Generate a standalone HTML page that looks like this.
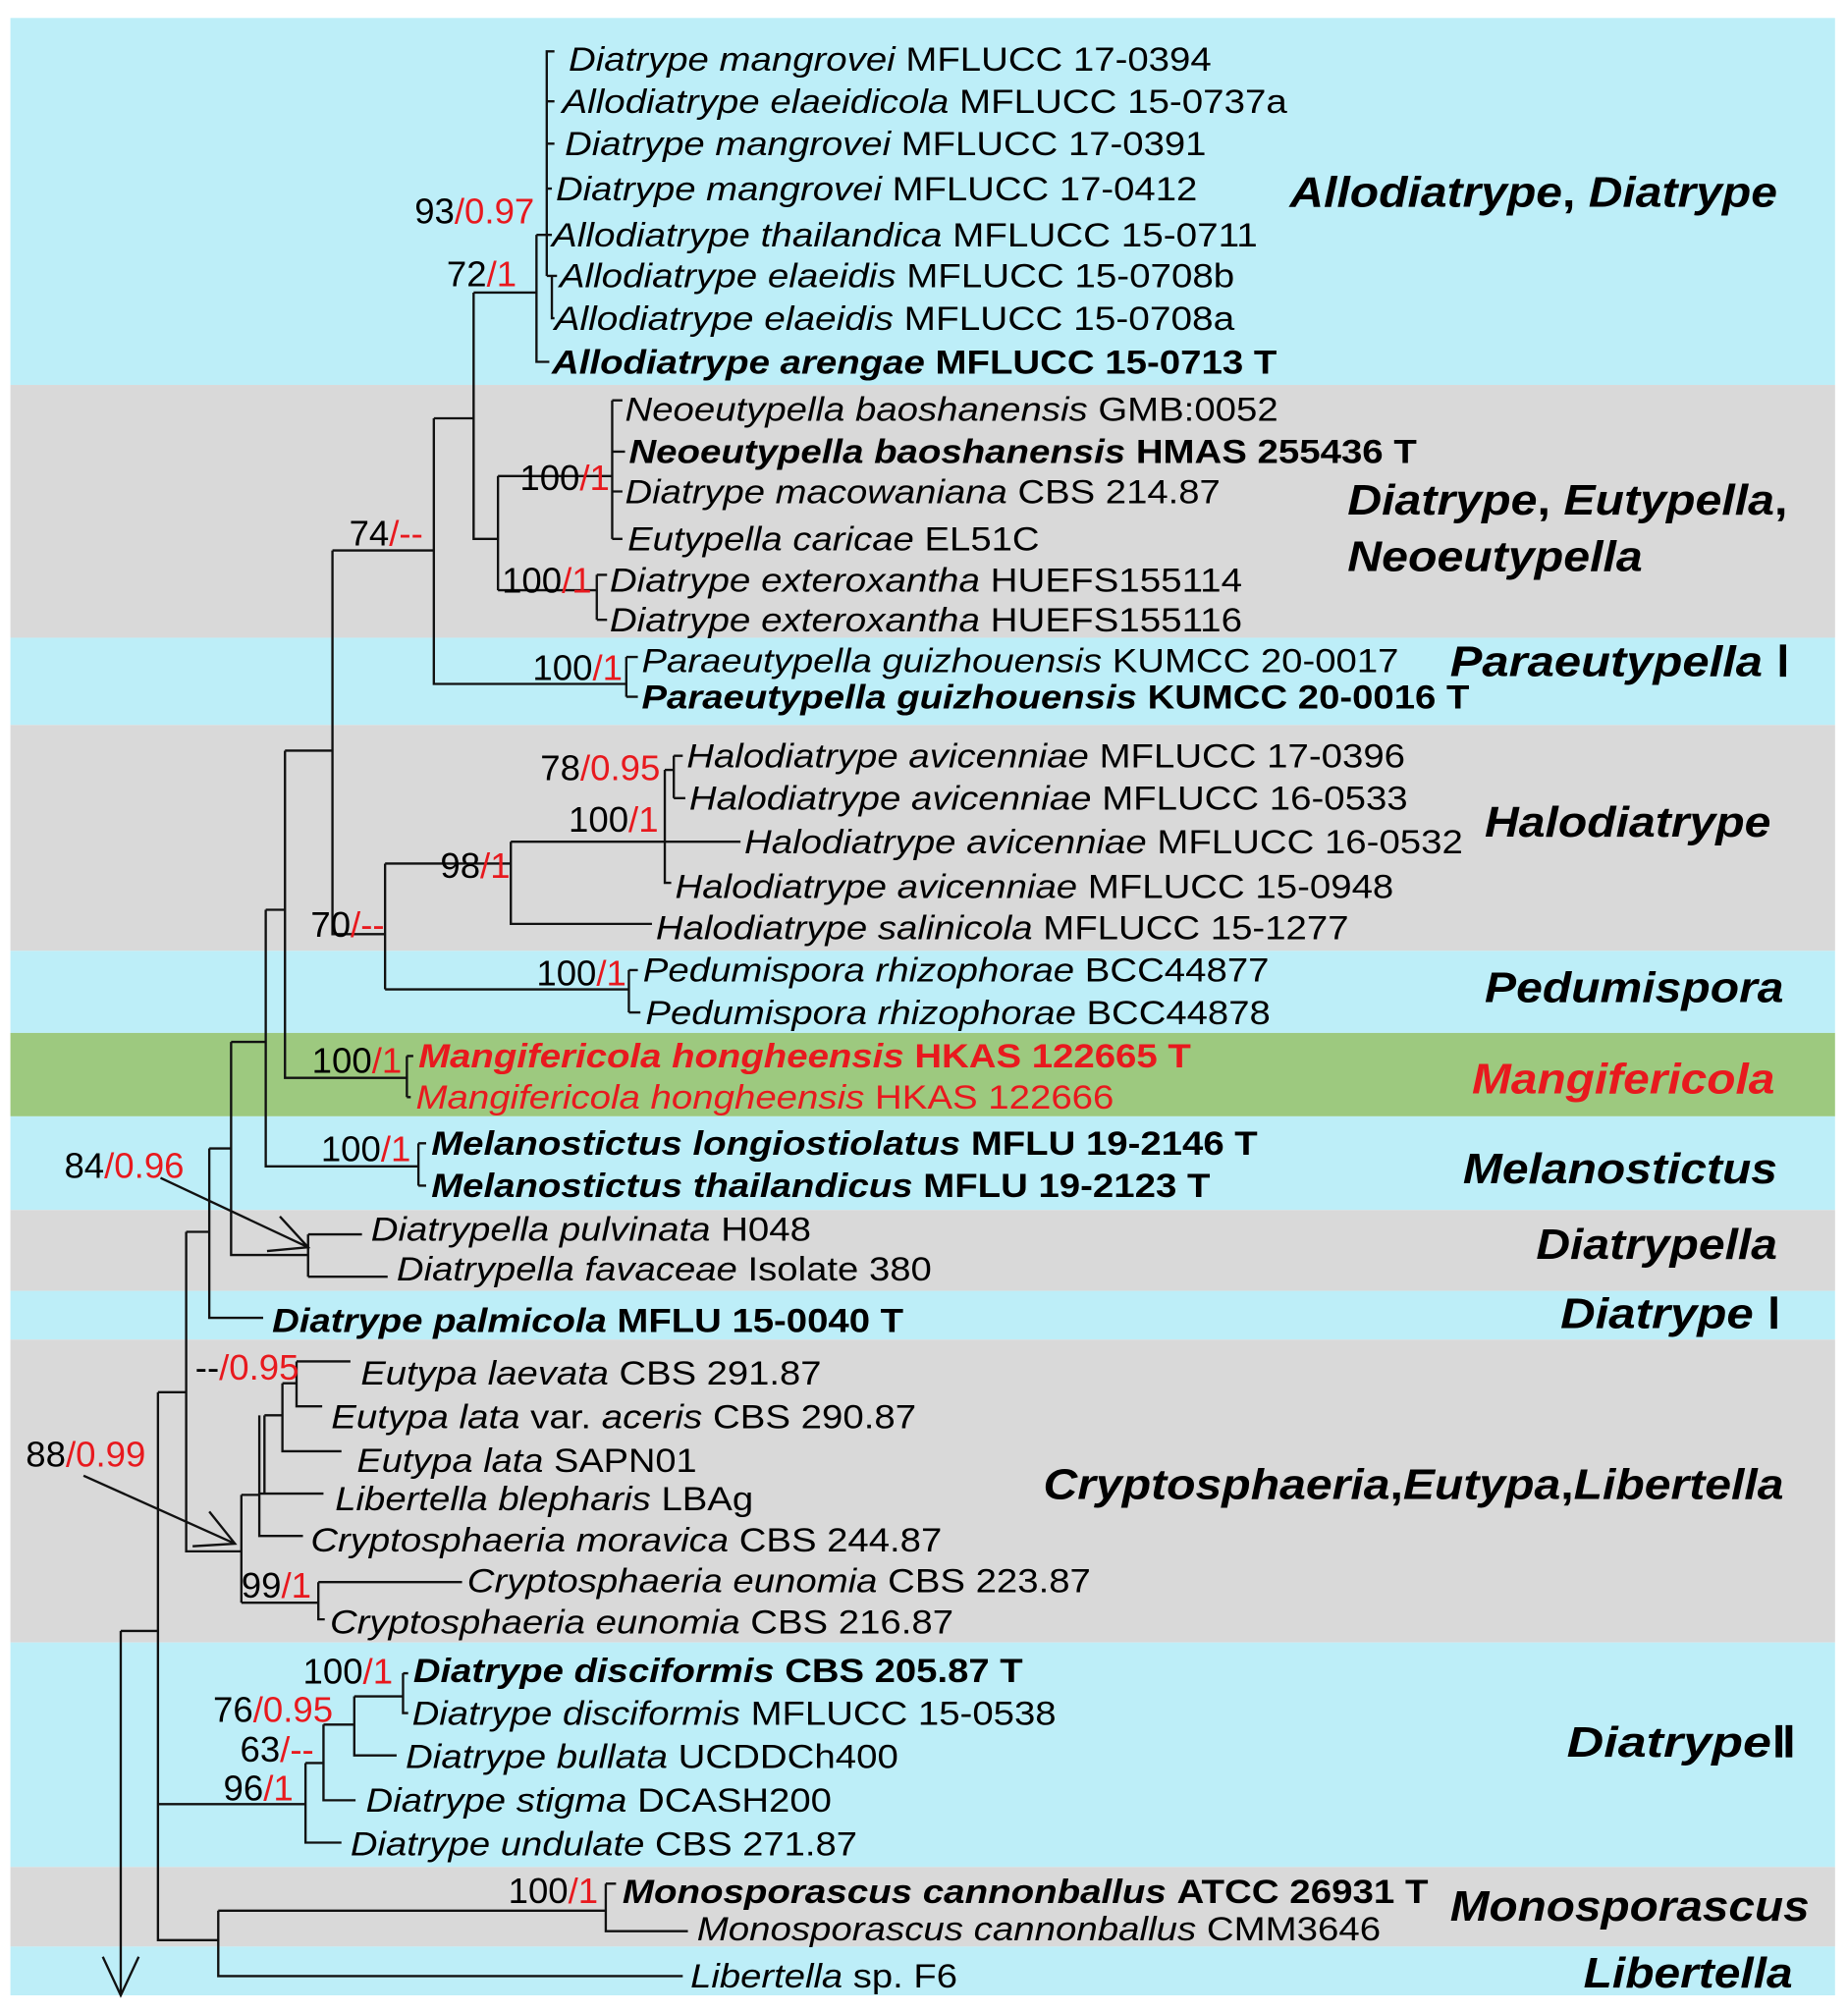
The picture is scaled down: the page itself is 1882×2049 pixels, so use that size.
<!DOCTYPE html>
<html><head><meta charset="utf-8"><style>
html,body{margin:0;padding:0;background:#fff}
svg{display:block}
text{font-family:"Liberation Sans",Arial,sans-serif}
.l{font-size:26px;font-style:italic}
.n{font-style:normal}
.b{font-weight:bold}
.s{font-size:28px}
.r{fill:#e8191e}
.c{font-size:33px;font-weight:bold;font-style:italic}
</style></head><body>
<svg width="1882" height="2049" viewBox="0 0 1440 1568" xmlns="http://www.w3.org/2000/svg">
<rect x="0" y="0" width="1440" height="1568" fill="#fff"/>
<g>
<rect x="8" y="14" width="1422" height="286" fill="#bdeef8"/>
<rect x="8" y="300" width="1422" height="197" fill="#d9d9d9"/>
<rect x="8" y="497" width="1422" height="68" fill="#bdeef8"/>
<rect x="8" y="565" width="1422" height="176" fill="#d9d9d9"/>
<rect x="8" y="741" width="1422" height="64" fill="#bdeef8"/>
<rect x="8" y="805" width="1422" height="65" fill="#9dc97f"/>
<rect x="8" y="870" width="1422" height="73" fill="#bdeef8"/>
<rect x="8" y="943" width="1422" height="63" fill="#d9d9d9"/>
<rect x="8" y="1006" width="1422" height="38" fill="#bdeef8"/>
<rect x="8" y="1044" width="1422" height="236" fill="#d9d9d9"/>
<rect x="8" y="1280" width="1422" height="175" fill="#bdeef8"/>
<rect x="8" y="1455" width="1422" height="62" fill="#d9d9d9"/>
<rect x="8" y="1517" width="1422" height="38" fill="#bdeef8"/>
</g>
<g stroke="#111" stroke-width="1.8" fill="none">
<path d="M432,40 H426 V215 M426,79 H432 M426,112 H432 M426,147 H430 M426,183 H430"/>
<path d="M418,183 H426 M418,183 V282 H428 M426,215 H430 V248 H432 M430,215 H434"/>
<path d="M369,228 H418 M369,228 V420 H388"/>
<path d="M388,371 V460 M388,371 H477 M477,312 V420 M477,312 H485 M477,352 H487 M477,383 H485 M477,420 H485"/>
<path d="M388,460 H465 M465,448 V483 M465,448 H473 M465,483 H473"/>
<path d="M338,326 H369 M338,326 V533 H488 M488,512 V543 M488,512 H497 M488,543 H497"/>
<path d="M259,429 H338 M259,429 V728 H300"/>
<path d="M300,673 V771 M300,673 H398 M398,656 V720 H508 M398,656 H518 M518,600 V688 H523 M518,656 H577 M518,600 H525 M525,589 V622 M525,589 H532 M525,622 H534"/>
<path d="M300,771 H490 M490,756 V789 M490,756 H497 M490,789 H499"/>
<path d="M222,585 H259 M222,585 V840 H317 M317,823 V855 M317,823 H322 M317,855 H320"/>
<path d="M207,709 H222 M207,709 V909 H326 M326,891 V924 M326,891 H332 M326,924 H332"/>
<path d="M180,812 H207 M180,812 V978 H240 M240,962 V995 M240,962 H282 M240,995 H302"/>
<path d="M163,895 H180 M163,895 V1027 H205"/>
<path d="M145,960 H163 M145,960 V1209 H188"/>
<path d="M188,1165 V1249 M188,1165 H202 M202,1103 V1197 H236 M202,1164 H252 M206,1103 V1164 M206,1103 H220 M220,1078 V1131 H266 M220,1078 H231 M231,1061 V1096 H251 M231,1061 H273"/>
<path d="M188,1249 H248 M248,1233 V1262 H253 M248,1233 H360"/>
<path d="M123,1085 H145 M123,1085 V1512 H170 M94,1271 H123 M94,1271 V1555"/>
<path d="M123,1406 H238 M238,1374 V1436 H266 M238,1374 H252 M252,1344 V1403 H277 M252,1344 H276 M276,1322 V1368 H309 M276,1322 H314 M314,1304 V1335 H318 M314,1304 H318"/>
<path d="M170,1489 V1540 H532 M170,1489 H472 M472,1468 V1505 H536 M472,1468 H480"/>
<path d="M80,1525 L94,1555 L108,1525"/>
<path d="M125,918 L240,972 M218,948 L240,972 L208,975"/>
<path d="M65,1150 L183,1203 M163,1178 L183,1203 L150,1205"/>
</g>
<g class="l">
<text x="443" y="55" textLength="501" lengthAdjust="spacingAndGlyphs">Diatrype mangrovei <tspan class="n">MFLUCC 17-0394</tspan></text>
<text x="438" y="88" textLength="565" lengthAdjust="spacingAndGlyphs">Allodiatrype elaeidicola <tspan class="n">MFLUCC 15-0737a</tspan></text>
<text x="440" y="121" textLength="500" lengthAdjust="spacingAndGlyphs">Diatrype mangrovei <tspan class="n">MFLUCC 17-0391</tspan></text>
<text x="433" y="156" textLength="500" lengthAdjust="spacingAndGlyphs">Diatrype mangrovei <tspan class="n">MFLUCC 17-0412</tspan></text>
<text x="430" y="192" textLength="550" lengthAdjust="spacingAndGlyphs">Allodiatrype thailandica <tspan class="n">MFLUCC 15-0711</tspan></text>
<text x="436" y="224" textLength="526" lengthAdjust="spacingAndGlyphs">Allodiatrype elaeidis <tspan class="n">MFLUCC 15-0708b</tspan></text>
<text x="432" y="257" textLength="530" lengthAdjust="spacingAndGlyphs">Allodiatrype elaeidis <tspan class="n">MFLUCC 15-0708a</tspan></text>
<text x="430" y="291" class="b" textLength="565" lengthAdjust="spacingAndGlyphs">Allodiatrype arengae <tspan class="n">MFLUCC 15-0713 T</tspan></text>
<text x="487" y="328" textLength="509" lengthAdjust="spacingAndGlyphs">Neoeutypella baoshanensis <tspan class="n">GMB:0052</tspan></text>
<text x="490" y="361" class="b" textLength="614" lengthAdjust="spacingAndGlyphs">Neoeutypella baoshanensis <tspan class="n">HMAS 255436 T</tspan></text>
<text x="487" y="392" textLength="464" lengthAdjust="spacingAndGlyphs">Diatrype macowaniana <tspan class="n">CBS 214.87</tspan></text>
<text x="489" y="429" textLength="321" lengthAdjust="spacingAndGlyphs">Eutypella caricae <tspan class="n">EL51C</tspan></text>
<text x="475" y="461" textLength="493" lengthAdjust="spacingAndGlyphs">Diatrype exteroxantha <tspan class="n">HUEFS155114</tspan></text>
<text x="475" y="492" textLength="493" lengthAdjust="spacingAndGlyphs">Diatrype exteroxantha <tspan class="n">HUEFS155116</tspan></text>
<text x="500" y="524" textLength="590" lengthAdjust="spacingAndGlyphs">Paraeutypella guizhouensis <tspan class="n">KUMCC 20-0017</tspan></text>
<text x="500" y="552" class="b" textLength="645" lengthAdjust="spacingAndGlyphs">Paraeutypella guizhouensis <tspan class="n">KUMCC 20-0016 T</tspan></text>
<text x="535" y="598" textLength="560" lengthAdjust="spacingAndGlyphs">Halodiatrype avicenniae <tspan class="n">MFLUCC 17-0396</tspan></text>
<text x="537" y="631" textLength="560" lengthAdjust="spacingAndGlyphs">Halodiatrype avicenniae <tspan class="n">MFLUCC 16-0533</tspan></text>
<text x="580" y="665" textLength="560" lengthAdjust="spacingAndGlyphs">Halodiatrype avicenniae <tspan class="n">MFLUCC 16-0532</tspan></text>
<text x="526" y="700" textLength="560" lengthAdjust="spacingAndGlyphs">Halodiatrype avicenniae <tspan class="n">MFLUCC 15-0948</tspan></text>
<text x="511" y="732" textLength="540" lengthAdjust="spacingAndGlyphs">Halodiatrype salinicola <tspan class="n">MFLUCC 15-1277</tspan></text>
<text x="501" y="765" textLength="488" lengthAdjust="spacingAndGlyphs">Pedumispora rhizophorae <tspan class="n">BCC44877</tspan></text>
<text x="503" y="798" textLength="487" lengthAdjust="spacingAndGlyphs">Pedumispora rhizophorae <tspan class="n">BCC44878</tspan></text>
<text x="326" y="832" class="b r" textLength="602" lengthAdjust="spacingAndGlyphs">Mangifericola hongheensis <tspan class="n">HKAS 122665 T</tspan></text>
<text x="324" y="864" class="r" textLength="544" lengthAdjust="spacingAndGlyphs">Mangifericola hongheensis <tspan class="n">HKAS 122666</tspan></text>
<text x="336" y="900" class="b" textLength="644" lengthAdjust="spacingAndGlyphs">Melanostictus longiostiolatus <tspan class="n">MFLU 19-2146 T</tspan></text>
<text x="336" y="933" class="b" textLength="607" lengthAdjust="spacingAndGlyphs">Melanostictus thailandicus <tspan class="n">MFLU 19-2123 T</tspan></text>
<text x="289" y="967" textLength="343" lengthAdjust="spacingAndGlyphs">Diatrypella pulvinata <tspan class="n">H048</tspan></text>
<text x="309" y="998" textLength="417" lengthAdjust="spacingAndGlyphs">Diatrypella favaceae <tspan class="n">Isolate 380</tspan></text>
<text x="212" y="1038" class="b" textLength="492" lengthAdjust="spacingAndGlyphs">Diatrype palmicola <tspan class="n">MFLU 15-0040 T</tspan></text>
<text x="281" y="1079" textLength="359" lengthAdjust="spacingAndGlyphs">Eutypa laevata <tspan class="n">CBS 291.87</tspan></text>
<text x="258" y="1113" textLength="456" lengthAdjust="spacingAndGlyphs">Eutypa lata <tspan class="n">var.</tspan> aceris <tspan class="n">CBS 290.87</tspan></text>
<text x="278" y="1147" textLength="265" lengthAdjust="spacingAndGlyphs">Eutypa lata <tspan class="n">SAPN01</tspan></text>
<text x="261" y="1177" textLength="326" lengthAdjust="spacingAndGlyphs">Libertella blepharis <tspan class="n">LBAg</tspan></text>
<text x="242" y="1209" textLength="492" lengthAdjust="spacingAndGlyphs">Cryptosphaeria moravica <tspan class="n">CBS 244.87</tspan></text>
<text x="364" y="1241" textLength="486" lengthAdjust="spacingAndGlyphs">Cryptosphaeria eunomia <tspan class="n">CBS 223.87</tspan></text>
<text x="257" y="1273" textLength="486" lengthAdjust="spacingAndGlyphs">Cryptosphaeria eunomia <tspan class="n">CBS 216.87</tspan></text>
<text x="322" y="1311" class="b" textLength="475" lengthAdjust="spacingAndGlyphs">Diatrype disciformis <tspan class="n">CBS 205.87 T</tspan></text>
<text x="321" y="1344" textLength="502" lengthAdjust="spacingAndGlyphs">Diatrype disciformis <tspan class="n">MFLUCC 15-0538</tspan></text>
<text x="316" y="1378" textLength="384" lengthAdjust="spacingAndGlyphs">Diatrype bullata <tspan class="n">UCDDCh400</tspan></text>
<text x="285" y="1412" textLength="363" lengthAdjust="spacingAndGlyphs">Diatrype stigma <tspan class="n">DCASH200</tspan></text>
<text x="273" y="1446" textLength="395" lengthAdjust="spacingAndGlyphs">Diatrype undulate <tspan class="n">CBS 271.87</tspan></text>
<text x="485" y="1483" class="b" textLength="628" lengthAdjust="spacingAndGlyphs">Monosporascus cannonballus <tspan class="n">ATCC 26931 T</tspan></text>
<text x="543" y="1512" textLength="533" lengthAdjust="spacingAndGlyphs">Monosporascus cannonballus <tspan class="n">CMM3646</tspan></text>
<text x="538" y="1549" textLength="208" lengthAdjust="spacingAndGlyphs">Libertella <tspan class="n">sp. F6</tspan></text>
</g>
<g class="s">
<text x="323" y="174">93<tspan class="r">/0.97</tspan></text>
<text x="348" y="223">72<tspan class="r">/1</tspan></text>
<text x="405" y="382">100<tspan class="r">/1</tspan></text>
<text x="391" y="462">100<tspan class="r">/1</tspan></text>
<text x="272" y="425">74<tspan class="r">/--</tspan></text>
<text x="415" y="530">100<tspan class="r">/1</tspan></text>
<text x="421" y="608">78<tspan class="r">/0.95</tspan></text>
<text x="443" y="648">100<tspan class="r">/1</tspan></text>
<text x="343" y="684">98<tspan class="r">/1</tspan></text>
<text x="242" y="730">70<tspan class="r">/--</tspan></text>
<text x="418" y="768">100<tspan class="r">/1</tspan></text>
<text x="243" y="836">100<tspan class="r">/1</tspan></text>
<text x="250" y="905">100<tspan class="r">/1</tspan></text>
<text x="50" y="918">84<tspan class="r">/0.96</tspan></text>
<text x="152" y="1075">--<tspan class="r">/0.95</tspan></text>
<text x="20" y="1143">88<tspan class="r">/0.99</tspan></text>
<text x="188" y="1245">99<tspan class="r">/1</tspan></text>
<text x="236" y="1312">100<tspan class="r">/1</tspan></text>
<text x="166" y="1342">76<tspan class="r">/0.95</tspan></text>
<text x="187" y="1373">63<tspan class="r">/--</tspan></text>
<text x="174" y="1403">96<tspan class="r">/1</tspan></text>
<text x="396" y="1483">100<tspan class="r">/1</tspan></text>
</g>
<g class="c">
<text x="1005" y="161" textLength="380" lengthAdjust="spacingAndGlyphs">Allodiatrype<tspan class="n">, </tspan>Diatrype</text>
<text x="1050" y="401" textLength="343" lengthAdjust="spacingAndGlyphs">Diatrype<tspan class="n">, </tspan>Eutypella<tspan class="n">,</tspan></text>
<text x="1050" y="445" textLength="230" lengthAdjust="spacingAndGlyphs">Neoeutypella</text>
<text x="1130" y="527" textLength="265" lengthAdjust="spacingAndGlyphs">Paraeutypella <tspan class="n">Ⅰ</tspan></text>
<text x="1157" y="652" textLength="223" lengthAdjust="spacingAndGlyphs">Halodiatrype</text>
<text x="1157" y="781" textLength="233" lengthAdjust="spacingAndGlyphs">Pedumispora</text>
<text x="1147" y="852" class="r" textLength="236" lengthAdjust="spacingAndGlyphs">Mangifericola</text>
<text x="1140" y="922" textLength="245" lengthAdjust="spacingAndGlyphs">Melanostictus</text>
<text x="1197" y="981" textLength="188" lengthAdjust="spacingAndGlyphs">Diatrypella</text>
<text x="1216" y="1035" textLength="172" lengthAdjust="spacingAndGlyphs">Diatrype <tspan class="n">Ⅰ</tspan></text>
<text x="813" y="1168" textLength="577" lengthAdjust="spacingAndGlyphs">Cryptosphaeria<tspan class="n">,</tspan>Eutypa<tspan class="n">,</tspan>Libertella</text>
<text x="1221" y="1369" textLength="179" lengthAdjust="spacingAndGlyphs">Diatrype<tspan class="n">Ⅱ</tspan></text>
<text x="1130" y="1497" textLength="280" lengthAdjust="spacingAndGlyphs">Monosporascus</text>
<text x="1234" y="1549" textLength="163" lengthAdjust="spacingAndGlyphs">Libertella</text>
</g>
</svg>
</body></html>
